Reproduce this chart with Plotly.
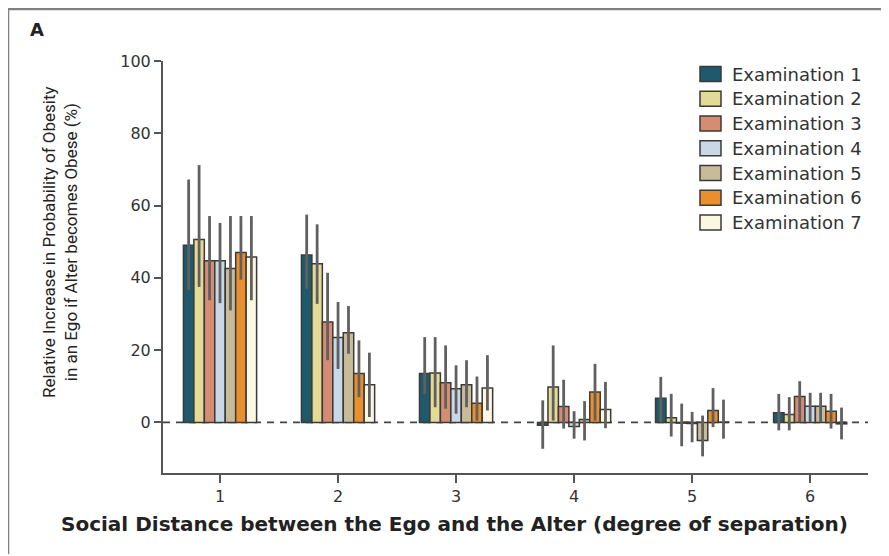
import plotly.graph_objects as go

# ---------------- data ----------------
distance = [1, 2, 3, 4, 5, 6]
series_names = ["Examination 1", "Examination 2", "Examination 3", "Examination 4",
                "Examination 5", "Examination 6", "Examination 7"]

exam1 = [49.0, 46.3, 13.5, -0.8, 6.7, 2.7]
exam1_hi = [67.2, 57.5, 23.6, 6.1, 12.6, 7.9]
exam1_lo = [36.6, 37.0, 7.9, -7.3, 0.1, -2.2]

exam2 = [50.6, 43.9, 13.7, 9.8, 1.3, 2.2]
exam2_hi = [71.2, 54.8, 23.6, 21.3, 7.9, 7.0]
exam2_lo = [37.5, 32.8, 4.2, 0.5, -3.9, -2.2]

exam3 = [44.7, 27.8, 11.0, 4.4, -0.2, 7.2]
exam3_hi = [57.1, 41.4, 21.3, 11.8, 5.2, 11.4]
exam3_lo = [33.8, 17.2, 3.8, -1.7, -6.6, 0.1]

exam4 = [44.7, 23.5, 9.3, -1.1, -0.3, 4.5]
exam4_hi = [55.2, 33.3, 15.8, 3.1, 2.9, 8.2]
exam4_lo = [33.0, 14.8, 2.4, -4.5, -5.5, 0.1]

exam5 = [42.6, 24.8, 10.4, 0.8, -5.0, 4.5]
exam5_hi = [57.1, 32.2, 17.2, 5.9, 1.9, 8.2]
exam5_lo = [31.0, 19.0, 4.2, -5.0, -9.4, 0.1]

exam6 = [47.0, 13.5, 5.3, 8.4, 3.3, 3.1]
exam6_hi = [57.1, 22.7, 12.7, 16.2, 9.5, 7.9]
exam6_lo = [39.5, 7.0, 0.5, 0.5, -1.3, -1.7]

exam7 = [45.8, 10.4, 9.5, 3.6, 0.1, -0.4]
exam7_hi = [57.1, 19.3, 18.6, 11.2, 6.3, 4.1]
exam7_lo = [33.8, 1.5, 3.3, -1.6, -4.5, -4.7]

y_ticks = [0, 20, 40, 60, 80, 100]

# ---------------- style ----------------
colors = ["#1f5a6c", "#e4da98", "#d48c72", "#c9d8e6", "#c8bb98", "#e98f2e", "#fcf7e2"]
OFF = 8  # page body margin
W, H = 880, 546
# plot area in window pixels: x 163..868, y 61..473
ML = 163 - OFF
MT = 61 - OFF
MR = W - (868 - OFF)
MB = H - (473 - OFF)
PW, PH = W - ML - MR, H - MT - MB


def px(x):  # window pixel -> paper
    return (x - OFF - ML) / PW


def py(y):
    return (MT + PH - (y - OFF)) / PH


values = [exam1, exam2, exam3, exam4, exam5, exam6, exam7]
highs = [exam1_hi, exam2_hi, exam3_hi, exam4_hi, exam5_hi, exam6_hi, exam7_hi]
lows = [exam1_lo, exam2_lo, exam3_lo, exam4_lo, exam5_lo, exam6_lo, exam7_lo]

fig = go.Figure()
for name, col, v, hi, lo in zip(series_names, colors, values, highs, lows):
    fig.add_trace(go.Bar(
        x=distance, y=v, name=name,
        marker=dict(color=col, line=dict(color="#3a3a3a", width=1.5)),
        error_y=dict(type="data", symmetric=False,
                     array=[h - a for h, a in zip(hi, v)],
                     arrayminus=[a - l for a, l in zip(v, lo)],
                     color="#606060", thickness=2.8, width=0),
        showlegend=False,
    ))

shapes = []
shapes.append(dict(type="line", xref="paper", yref="y", x0=0, x1=1, y0=0, y1=0,
                   line=dict(color="#444", width=1.6, dash="7px,6px"), layer="below"))
shapes.append(dict(type="rect", xref="paper", yref="paper",
                   x0=px(8), x1=px(885), y0=py(570), y1=py(9),
                   line=dict(color="#808080", width=2.5), layer="below"))

annotations = []
for i, (name, col) in enumerate(zip(series_names, colors)):
    cy = 74 + i * 24.75
    shapes.append(dict(type="rect", xref="paper", yref="paper",
                       x0=px(700), x1=px(721), y0=py(cy + 7.5), y1=py(cy - 7.5),
                       fillcolor=col, line=dict(color="#3a3a3a", width=1.5)))
    annotations.append(dict(x=px(730), y=py(cy), xref="paper", yref="paper",
                            text=name, showarrow=False, xanchor="left", yanchor="middle",
                            font=dict(family="DejaVu Sans", size=18, color="#333")))

annotations.append(dict(x=px(28), y=py(30), xref="paper", yref="paper", text="<b>A</b>",
                        showarrow=False, xanchor="left", yanchor="middle",
                        font=dict(family="DejaVu Sans", size=18, color="#222")))
annotations.append(dict(x=px(60), y=py(242), xref="paper", yref="paper",
                        text="Relative Increase in Probability of Obesity<br>in an Ego if Alter becomes Obese (%)",
                        showarrow=False, textangle=-90, xanchor="center", yanchor="middle",
                        font=dict(family="Liberation Sans Narrow, Roboto, sans-serif", size=17, color="#222")))
annotations.append(dict(x=px(454), y=py(524), xref="paper", yref="paper",
                        text="<b>Social Distance between the Ego and the Alter (degree of separation)</b>",
                        showarrow=False, xanchor="center", yanchor="middle",
                        font=dict(family="DejaVu Sans", size=20, color="#222")))

fig.update_layout(
    width=W, height=H,
    margin=dict(l=ML, r=MR, t=MT, b=MB),
    paper_bgcolor="white", plot_bgcolor="white",
    barmode="group", bargap=0.38, bargroupgap=0,
    shapes=shapes, annotations=annotations,
    xaxis=dict(range=[0.517, 6.49], tickvals=distance, ticktext=[str(d) for d in distance],
               showline=True, linecolor="#555", linewidth=2, ticks="outside", ticklen=8,
               tickwidth=2, tickcolor="#555", showgrid=False, zeroline=False,
               tickfont=dict(family="DejaVu Sans", size=16, color="#333")),
    yaxis=dict(range=[-14, 100], tickvals=y_ticks, ticktext=[str(t) for t in y_ticks],
               showline=True, linecolor="#555", linewidth=2, ticks="outside", ticklen=7,
               tickwidth=2, tickcolor="#555", showgrid=False, zeroline=False,
               tickfont=dict(family="DejaVu Sans", size=16, color="#333")),
)

fig.write_html("out.html")
